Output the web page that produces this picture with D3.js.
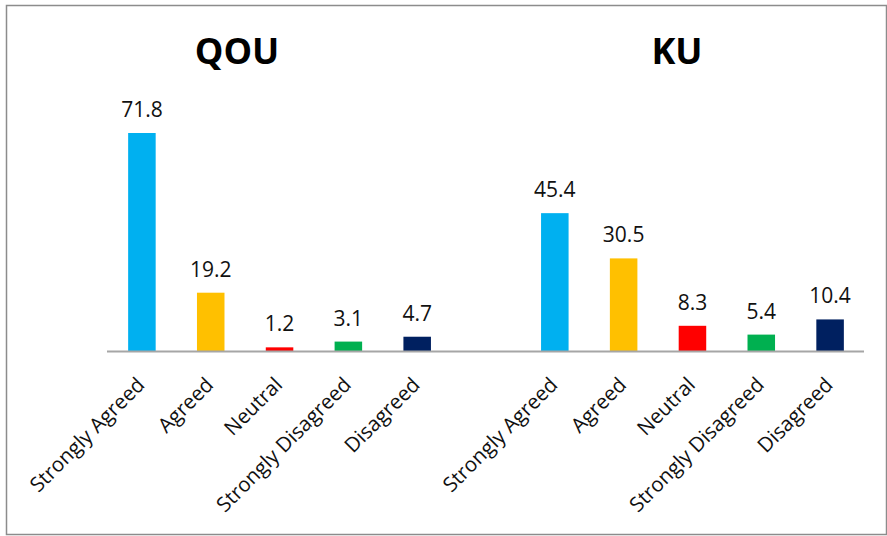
<!DOCTYPE html>
<html><head><meta charset="utf-8">
<script src="https://cdn.jsdelivr.net/npm/d3@7"></script>
<style>body{margin:0;background:#fff}svg{display:block}</style>
</head><body>
<script>
const categories = ["Strongly Agreed","Agreed","Neutral","Strongly Disagreed","Disagreed"];
const groups = ["QOU","KU"];
const qouValues = [71.8, 19.2, 1.2, 3.1, 4.7];
const kuValues = [45.4, 30.5, 8.3, 5.4, 10.4];
const colors = ["#00B0F0","#FFC000","#FF0000","#00B050","#002060"];

const W = 887, H = 536;
const svg = d3.select("body").append("svg").attr("width", W).attr("height", H);
svg.append("rect").attr("x",6.5).attr("y",5.5).attr("width",880).attr("height",529)
  .attr("fill","#fff").attr("stroke","#8c8c8c").attr("stroke-width",1.5);

const slots = [];
categories.forEach((c,i)=>slots.push({key:"QOU-"+i, cat:c, v:qouValues[i], col:colors[i]}));
slots.push({key:"gap", cat:"", v:null});
categories.forEach((c,i)=>slots.push({key:"KU-"+i, cat:c, v:kuValues[i], col:colors[i]}));

const x = d3.scaleBand().domain(slots.map(d=>d.key)).range([107.5, 864.5]).paddingInner(0.6).paddingOuter(0.3);
const y = d3.scaleLinear().domain([0, 71.8]).range([351, 133]);

const data = slots.filter(d=>d.v!==null);
svg.selectAll("rect.bar").data(data).join("rect").attr("class","bar")
  .attr("x", d=>x(d.key)).attr("width", x.bandwidth())
  .attr("y", d=>y(d.v)).attr("height", d=>y(0)-y(d.v)).attr("fill", d=>d.col);

svg.append("line").attr("x1",107).attr("x2",864).attr("y1",351.5).attr("y2",351.5)
  .attr("stroke","#a6a6a6").attr("stroke-width",2);

svg.selectAll("text.val").data(data).join("text").attr("class","val")
  .attr("x", d=>x(d.key)+x.bandwidth()/2).attr("y", d=>y(d.v)-16)
  .attr("text-anchor","middle").attr("font-family","Open Sans").attr("font-size",21)
  .attr("fill","#111").text(d=>d.v.toFixed(1));

svg.selectAll("text.cat").data(data).join("text").attr("class","cat")
  .attr("transform", d=>`translate(${x(d.key)+x.bandwidth()/2+4},${386}) rotate(-45)`)
  .attr("text-anchor","end").attr("font-family","Open Sans").attr("font-size",20.5)
  .attr("fill","#111").text(d=>d.cat);

const titlePos = [237, 677];
svg.selectAll("text.title").data(groups).join("text").attr("class","title")
  .attr("x",(d,i)=>titlePos[i]).attr("y",64).attr("text-anchor","middle")
  .attr("font-family","Open Sans").attr("font-weight","bold").attr("font-size",36)
  .attr("fill","#000").text(d=>d);
</script>
</body></html>
